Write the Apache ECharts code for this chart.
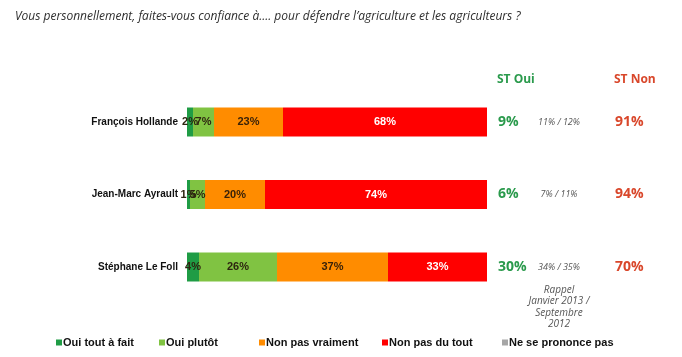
<!DOCTYPE html>
<html>
<head>
<meta charset="utf-8">
<script src="https://cdn.jsdelivr.net/npm/echarts@6/dist/echarts.min.js"></script>
<style>html,body{margin:0;padding:0;background:#fff}#c{width:682px;height:357px}</style>
</head>
<body>
<div id="c"></div>
<script>
var titleText = "Vous personnellement, faites-vous confiance à.... pour défendre l’agriculture et les agriculteurs ?";
var categories = ["François Hollande", "Jean-Marc Ayrault", "Stéphane Le Foll"];
var seriesNames = ["Oui tout à fait", "Oui plutôt", "Non pas vraiment", "Non pas du tout", "Ne se prononce pas"];
var ouiToutAFait = [2, 1, 4];
var ouiPlutot = [7, 5, 26];
var nonPasVraiment = [23, 20, 37];
var nonPasDuTout = [68, 74, 33];
var nsp = [0, 0, 0];
var stOui = ["9%", "6%", "30%"];
var stNon = ["91%", "94%", "70%"];
var rappel = ["11% / 12%", "7% / 11%", "34% / 35%"];
var rappelNote = "Rappel\nJanvier 2013 /\nSeptembre\n2012";

var colors = ['#1f9c45', '#80c342', '#ff8c00', '#ff0000', '#a6a6a6'];
var labelColors = ['#2d2410', '#2d2410', '#3a2208', '#ffffff', '#333'];
var allData = [ouiToutAFait, ouiPlutot, nonPasVraiment, nonPasDuTout, nsp];
var legendLefts = [56, 159, 259, 382, 502];

var chart = echarts.init(document.getElementById('c'));
var series = seriesNames.map(function (n, i) {
  return {
    name: n, type: 'bar', stack: 'total', barWidth: 29,
    data: allData[i],
    itemStyle: { color: colors[i] },
    label: {
      show: i < 4, position: 'inside', formatter: '{c}%',
      color: labelColors[i], fontFamily: 'Liberation Sans', fontWeight: 'bold', fontSize: 11
    },
    emphasis: { disabled: true }
  };
});
var legends = seriesNames.map(function (n, i) {
  return {
    data: [n], left: legendLefts[i], top: 337, padding: 0, icon: 'rect', itemWidth: 6, itemHeight: 6, itemGap: 0,
    textStyle: { fontFamily: 'Liberation Sans', fontWeight: 'bold', fontSize: 11, color: '#111', padding: [0, 0, 0, -4] }
  };
});
chart.setOption({
  animation: false,
  title: { text: titleText, left: 10, top: 6, textStyle: { fontFamily: 'Open Sans', fontStyle: 'italic', fontWeight: 'normal', fontSize: 12, color: '#2e2e2e' } },
  legend: legends,
  grid: { left: 187, right: 195, top: 85.75, bottom: 53.75 },
  xAxis: { type: 'value', min: 0, max: 100, show: false },
  yAxis: {
    type: 'category', data: categories, inverse: true,
    axisLine: { show: false }, axisTick: { show: false },
    axisLabel: { margin: 9, fontFamily: 'Liberation Sans', fontWeight: 'bold', fontSize: 10, color: '#111' }
  },
  series: series
});

var g = [];
g.push({ type: 'text', left: 497, top: 74, style: { text: 'ST Oui', font: 'bold 12px "Open Sans"', fill: '#2a9a4c' } });
g.push({ type: 'text', left: 614, top: 74, style: { text: 'ST Non', font: 'bold 12px "Open Sans"', fill: '#d9472b' } });
categories.forEach(function (c, i) {
  var y = chart.convertToPixel({ yAxisIndex: 0 }, c);
  g.push({ type: 'text', x: 498, y: y, style: { text: stOui[i], font: 'bold 14px "Open Sans"', fill: '#2a9a4c', verticalAlign: 'middle' } });
  g.push({ type: 'text', x: 559, y: y, style: { text: rappel[i], font: 'italic 9px "Open Sans"', fill: '#555', align: 'center', verticalAlign: 'middle' } });
  g.push({ type: 'text', x: 615, y: y, style: { text: stNon[i], font: 'bold 14px "Open Sans"', fill: '#d9472b', verticalAlign: 'middle' } });
});
g.push({ type: 'text', x: 559, y: 284, style: { text: rappelNote, font: 'italic 10px "Open Sans"', fill: '#555', align: 'center', lineHeight: 11.5 } });
chart.setOption({ graphic: g });
</script>
</body>
</html>
